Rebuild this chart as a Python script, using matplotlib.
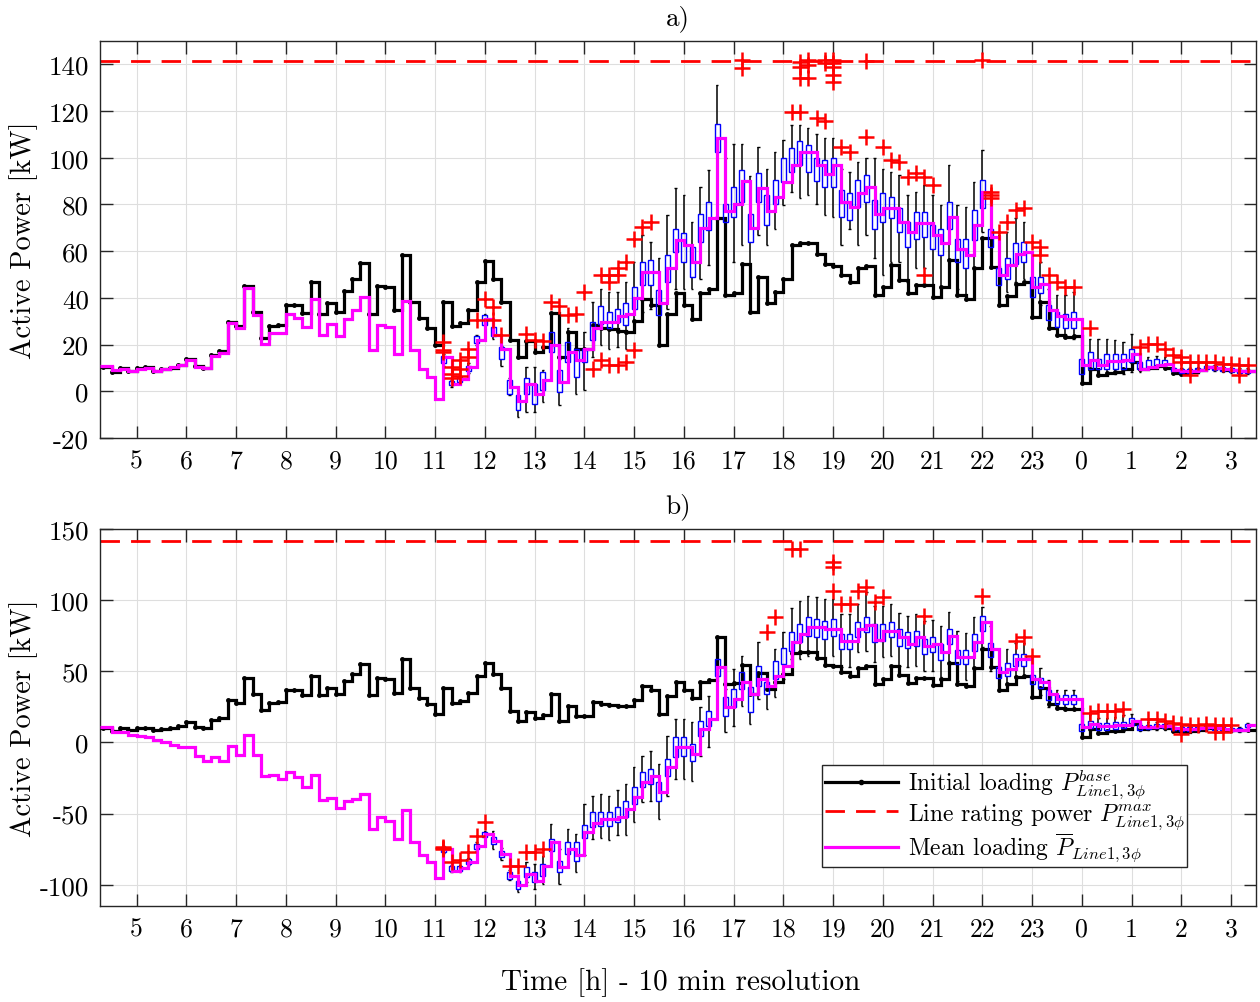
import numpy as np
import matplotlib
matplotlib.use('Agg')
import matplotlib.pyplot as plt
from matplotlib.patches import Rectangle
from matplotlib.lines import Line2D

plt.rcParams['font.family'] = ['cmr10', 'DejaVu Serif']
plt.rcParams['mathtext.fontset'] = 'cm'
plt.rcParams['axes.unicode_minus'] = False

# 10 min samples, 04:20 -> 03:20 next day (one row per hour)
initial_load = [
    10.4, 8.3, 10.0, 8.7,
    10.0, 10.4, 8.6, 9.7, 10.0, 11.4,
    14.0, 10.9, 10.0, 15.4, 17.1, 29.7,
    27.9, 45.0, 34.0, 23.0, 28.0, 28.5,
    37.0, 37.0, 33.5, 47.0, 33.0, 38.0,
    34.0, 43.0, 48.0, 55.0, 33.0, 45.0,
    44.7, 34.7, 58.3, 38.3, 31.4, 26.9,
    19.7, 38.3, 28.0, 29.4, 34.7, 46.6,
    55.7, 48.3, 38.3, 21.9, 14.7, 21.4,
    16.9, 19.0, 33.7, 14.7, 25.4, 18.3,
    18.3, 28.6, 27.1, 26.6, 25.9, 25.4,
    30.0, 39.4, 36.9, 20.0, 32.9, 42.3,
    36.9, 30.9, 42.3, 44.0, 74.0, 41.1,
    41.9, 54.7, 34.0, 49.0, 37.6, 42.6,
    48.3, 62.6, 63.7, 63.3, 59.0, 54.7,
    53.7, 49.7, 46.9, 52.6, 53.6, 41.1,
    44.7, 54.0, 47.6, 41.9, 45.4, 45.4,
    40.4, 44.7, 56.1, 41.1, 39.7, 52.6,
    65.7, 53.3, 36.9, 40.9, 45.9, 46.9,
    31.9, 38.3, 27.1, 24.3, 23.3, 23.7,
    3.7, 9.7, 6.9, 7.9, 8.3, 9.4,
    12.6, 9.4, 10.0, 10.9, 10.0, 7.9,
    7.6, 8.3, 9.0, 10.4, 10.0, 9.0,
    9.0, 8.7, 8.7,
]

mean_a = [
    10.7, 9.0, 9.7, 8.7,
    9.7, 10.0, 8.7, 9.7, 10.4, 11.1,
    13.6, 10.4, 10.0, 15.0, 16.6, 29.3,
    26.9, 44.3, 32.6, 20.4, 25.1, 25.1,
    32.9, 31.4, 27.6, 39.4, 24.0, 28.7,
    23.7, 31.1, 34.7, 40.4, 17.6, 28.3,
    27.5, 16.1, 38.5, 17.6, 9.7, 6.0,
    -3.4, 14.7, 3.3, 5.1, 10.4, 21.9,
    31.0, 24.0, 18.0, 2.0, -4.0, 3.0,
    -1.0, 5.0, 20.0, 4.0, 17.0, 13.3,
    18.0, 26.9, 29.7, 29.7, 32.3, 33.3,
    40.0, 51.0, 51.0, 38.0, 52.9, 65.0,
    62.6, 55.4, 70.0, 74.3, 108.3, 77.0,
    80.4, 90.0, 70.0, 86.9, 77.0, 83.3,
    89.7, 96.9, 102.6, 102.6, 97.0, 93.0,
    96.9, 81.0, 79.0, 84.7, 87.6, 76.1,
    78.3, 78.3, 72.6, 68.3, 71.9, 71.9,
    66.9, 63.3, 74.7, 61.1, 58.3, 71.1,
    85.4, 66.1, 49.7, 54.0, 59.0, 59.7,
    44.7, 46.1, 34.7, 32.3, 30.9, 30.9,
    11.1, 13.3, 11.1, 12.9, 12.9, 13.3,
    16.1, 9.7, 10.4, 11.1, 11.9, 9.0,
    8.6, 8.6, 9.0, 10.4, 10.0, 9.4,
    9.0, 8.6, 8.6,
]

mean_b = [
    10.5, 7.5, 7.5, 5.4,
    4.7, 3.5, 1.9, 0.0, -1.9, -3.5,
    -3.5, -9.4, -12.9, -10.5, -12.9, -2.8,
    -8.7, 5.4, -8.9, -23.9, -22.7, -25.8,
    -20.6, -24.6, -31.6, -22.7, -40.3, -39.3,
    -46.1, -41.0, -39.8, -36.3, -60.9, -52.7,
    -55.0, -67.9, -47.3, -69.8, -79.2, -84.3,
    -95.5, -75.0, -90.2, -88.5, -84.3, -72.6,
    -64.4, -69.1, -78.5, -93.7, -100.2, -92.5,
    -97.2, -86.7, -70.3, -87.8, -75.0, -79.2,
    -63.0, -57.0, -53.9, -53.9, -52.7, -46.8,
    -38.6, -28.1, -23.4, -35.1, -17.6, -3.5,
    -3.5, -8.2, 9.4, 16.4, 52.7, 24.6,
    30.4, 42.2, 34.0, 44.5, 39.8, 46.8,
    53.9, 70.3, 76.1, 80.8, 80.8, 79.6,
    80.0, 71.4, 71.4, 79.6, 82.4, 72.0,
    78.0, 78.5, 73.8, 69.0, 74.0, 68.0,
    69.0, 63.2, 75.0, 60.0, 60.0, 70.3,
    84.3, 65.6, 49.2, 51.5, 58.5, 58.5,
    44.5, 42.2, 34.0, 30.4, 30.4, 30.4,
    10.5, 12.9, 11.5, 11.5, 12.0, 12.5,
    15.2, 10.5, 11.0, 11.5, 11.5, 9.8,
    9.5, 9.5, 9.8, 10.5, 10.0, 9.5,
    8.9, 8.9, 12.0,
]

rating = 141.4

# box statistics from 11:10 onwards (q1, q3, lower/upper whisker)
box_start = '11:10'
q1_a = [
    12, 2.5, 4, 8.5, 20.5,
    28.5, 23.5, 14, -1, -8, -1,
    -5.3, 0.4, 16.9, -0.3, 12.6, 6,
    12.6, 21.9, 28.9, 26.9, 29.7, 28.3,
    35.4, 45.4, 45.4, 32.6, 46.9, 59.7,
    55.4, 49, 64, 69, 102.6, 72.6,
    74.6, 81.1, 64, 81.1, 71.1, 80.4,
    89.7, 94, 97, 94, 90, 87.6,
    87.6, 74.7, 73.3, 79, 81.1, 69.7,
    72.6, 74, 68.3, 61.9, 65.4, 66.1,
    61.1, 58.3, 69.7, 55.4, 52.6, 64.7,
    78.3, 61.9, 45.4, 48.3, 54.7, 55.4,
    40.4, 41.9, 30.4, 27.6, 26.9, 26.9,
    7.6, 9.7, 9.7, 9.7, 9.7, 9.7,
    12.6, 9.7, 10.4, 10.9, 11.1, 8.5,
    8, 8, 8.5, 9.5, 9.3, 8.8,
    8.3, 8, 8,
]
q3_a = [
    15, 4.5, 6, 11, 23.5,
    32.5, 27.5, 19, 4.7, -1.7, 5.5,
    3.3, 8.3, 25.4, 9, 21.1, 18.3,
    18.3, 29.7, 36.6, 34, 35.4, 37.6,
    44.7, 55.4, 56.1, 43.3, 58.3, 69.7,
    67.6, 61.9, 76.1, 81.1, 114.6, 80.4,
    87.6, 94.6, 76.1, 93.3, 84, 90.4,
    99.7, 104, 107, 105.4, 100, 99,
    99.7, 86.1, 84.7, 90.4, 92.6, 81.9,
    84.7, 83.3, 78.3, 72.6, 76.9, 76.9,
    71.1, 69.7, 81.1, 65.4, 65.4, 77.6,
    90.4, 69.7, 52.6, 56.9, 63.3, 64,
    49, 49, 36.9, 34, 33.3, 34,
    14, 16.9, 14, 16.1, 16.1, 16.1,
    18.3, 12.6, 13.3, 14, 13.3, 10,
    9.5, 9.5, 10, 11, 10.8, 10.2,
    9.8, 9.3, 9.3,
]
wlo_a = [
    11, 2, 3.5, 8, 20,
    27.5, 22.5, 11, -1.7, -11, -8.9,
    -8.9, -4.6, 12.6, -6, 4, -1,
    0.4, 14.7, 20, 18.3, 19, 18.3,
    26.9, 34, 35.4, 19.7, 35.4, 44,
    44, 44, 48.3, 54, 84, 41.1,
    55.4, 62.6, 52.6, 66.9, 62.6, 69.7,
    79.7, 85.4, 82.6, 84, 80, 75.4,
    74.7, 62.6, 69.7, 62.6, 66.9, 56.9,
    49.7, 55.4, 55.4, 46.9, 52.6, 52.6,
    45.4, 44, 52.6, 44, 41.1, 52.6,
    68.3, 52.6, 41.1, 42.6, 46.9, 48.3,
    32.6, 36.9, 26.9, 24, 24, 22.6,
    4, 6.9, 6.9, 6.9, 7.6, 7.6,
    8.3, 8.3, 9.5, 10, 10, 8,
    7.5, 7.5, 8, 9, 8.8, 8.3,
    7.8, 7.5, 7.5,
]
whi_a = [
    16, 5, 7, 12, 24,
    33, 28.5, 19.5, 5.5, -1, 10.4,
    10.4, 9, 29.7, 14, 26.9, 23.3,
    25.4, 38.3, 44, 42.6, 42.6, 46.9,
    55.4, 66.9, 64, 56.9, 75.4, 86.9,
    84, 72.6, 87.6, 94.9, 131.1, 100,
    106, 106, 92.3, 104.7, 95.4, 102.6,
    107.6, 113.9, 113.9, 112.6, 110, 108.3,
    108.3, 95.4, 94, 98.3, 99.7, 99.7,
    95.4, 94, 92.6, 84, 85.4, 88.3,
    84, 79.7, 96.9, 79.7, 79, 89.7,
    103.3, 84, 66.9, 68.3, 74, 72.6,
    56.9, 55.4, 44, 41.1, 41.1, 42.6,
    19.7, 22.6, 22.6, 22.6, 21.9, 21.1,
    24.7, 14, 14.5, 15, 14.5, 10.7,
    10, 10, 10.5, 11.5, 11.3, 10.8,
    10.3, 9.8, 9.8,
]

q1_b = [
    -77.3, -90.2, -90.2, -85.5, -74.9,
    -66.7, -71.4, -80.8, -96, -103, -94.8,
    -98.4, -93.7, -76.1, -91.3, -78.5, -83.1,
    -67, -59.7, -58.5, -58.5, -56.2, -52.7,
    -43.3, -31.6, -29.3, -41, -23.4, -10.5,
    -9.4, -12.9, 4.7, 11.7, 46.8, 18.7,
    24.6, 37.5, 21.1, 39.8, 34, 44.5,
    55, 64.4, 70.3, 74.9, 73.8, 72.6,
    74.9, 65.6, 65.6, 73.8, 77.3, 70.3,
    71.4, 73.8, 67.9, 66.7, 67.9, 62.1,
    63.5, 58, 69, 55, 55, 64,
    78, 60, 45, 47, 54, 54,
    41, 38.5, 29.5, 27, 27, 27,
    8, 10, 9, 9, 9.5, 10,
    12.5, 9, 9.5, 10, 10, 8.5,
    8.3, 8.3, 8.5, 9.3, 9, 8.5,
    8, 8, 11,
]
q3_b = [
    -73.8, -86.7, -86.7, -82, -71.4,
    -63.2, -66.7, -76.1, -91.3, -97.2, -87.8,
    -91.3, -85.5, -67.9, -83.1, -70.3, -70.3,
    -58, -49.2, -49.2, -49.2, -45.7, -41,
    -31.6, -21.1, -18.7, -28.1, -11.7, 3.5,
    3.5, -1.2, 15.2, 22.2, 58.5, 31.6,
    37.5, 49.2, 38.6, 53.9, 42.2, 57.4,
    66.7, 77.3, 83.1, 87.8, 86.7, 85.5,
    86.7, 76.1, 76.1, 84.3, 87.8, 83.1,
    83.1, 84.3, 79.6, 77.3, 78.5, 72.6,
    74, 69, 80, 65, 65, 76,
    89, 70, 53, 56, 62, 62,
    47.5, 45, 36.5, 33, 33, 33,
    13, 15, 13.5, 13.5, 14, 14.5,
    17, 12, 12.5, 13, 13, 11,
    10.8, 10.8, 11, 11.8, 11.5, 10.5,
    10, 10, 13,
]
wlo_b = [
    -78, -91, -91, -86, -76,
    -68, -74.9, -83, -97, -105.4, -98.4,
    -103, -99.5, -84.3, -99.5, -86.7, -91.3,
    -79.2, -67.9, -67.4, -68.6, -64.9, -64.9,
    -56.2, -42.2, -41, -53.9, -37.5, -25.8,
    -25.8, -26.9, -9.4, -3.5, 33, 7,
    11.7, 25.8, 12.9, 30.4, 23.4, 31.6,
    44.5, 58.5, 58.5, 60.9, 60, 59,
    60.9, 52.7, 52.7, 63.2, 64.4, 56.2,
    59.7, 60.9, 53.9, 52.7, 53.9, 50.4,
    50, 46, 57, 43, 44, 52,
    67, 50, 38, 40, 47, 47,
    35, 33, 25, 24, 24, 24,
    5, 7, 7, 7, 7.5, 8,
    10, 8, 8.5, 9, 9, 8,
    7.8, 7.8, 8, 8.8, 8.5, 8,
    7.5, 7.5, 10.5,
]
whi_b = [
    -73, -86, -86, -81, -70,
    -62, -62, -74, -90, -96, -84.3,
    -85.5, -79.7, -57.1, -75, -60.9, -64.4,
    -43.3, -37.5, -36.3, -37.5, -33.7, -29.3,
    -17.6, -9.4, -5.9, -15.2, 4.7, 16.4,
    16.4, 14, 24.6, 32.8, 72, 37.5,
    51.5, 60.9, 51.5, 70.3, 46.8, 65.6,
    77.3, 94.8, 99.5, 103, 102, 101,
    100.7, 90.2, 90.2, 97.2, 105.4, 95.9,
    95.9, 97.2, 91.3, 88.9, 90.2, 85.5,
    86, 82, 92, 78, 77, 88,
    95, 82, 64, 66, 70, 70,
    55, 52, 44, 37, 37, 37,
    17, 19, 17, 17, 18, 19,
    20, 13.5, 14, 14, 14, 12,
    11.5, 11.5, 11.8, 12.5, 12.2, 11.2,
    10.7, 10.7, 13.5,
]

outliers_a = {
    '11:10': [21.0, 17.5, 17.0], '11:20': [10.4, 7.5, 5.5], '11:30': [13.3, 9.7, 6.5],
    '11:40': [14.7, 18.3], '11:50': [30.4], '12:00': [39.7], '12:10': [36.1, 30.4],
    '12:20': [24.0], '12:50': [24.7], '13:00': [21.9], '13:10': [21.4], '13:20': [38.3],
    '13:30': [36.6], '13:40': [32.6], '13:50': [33.3], '14:00': [42.6], '14:10': [9.7],
    '14:20': [49.7, 13.3], '14:30': [49.7, 46.9, 11.1], '14:40': [52.6, 49.7, 11.1],
    '14:50': [55.4, 12.6], '15:00': [65.4, 17.6], '15:10': [70.4], '15:20': [72.6],
    '17:10': [141.9, 138.3], '18:10': [119.7], '18:20': [141.1, 139.0, 134.0, 119.7],
    '18:30': [141.9, 139.7, 134.0], '18:40': [116.9], '18:50': [141.9, 140.5, 115.7],
    '19:00': [141.9, 140.4, 139.0, 135.4, 132.6], '19:10': [104.7], '19:20': [102.6],
    '19:40': [141.6, 109.0], '20:00': [104.7], '20:10': [99.0], '20:20': [98.3],
    '20:30': [91.9], '20:40': [93.3], '20:50': [91.9, 49.7], '21:00': [88.3],
    '22:00': [141.9], '22:10': [85.4, 84.0, 82.6], '22:20': [68.3], '22:30': [72.6],
    '22:40': [77.6], '22:50': [78.3], '23:00': [64.0], '23:10': [61.9, 58.3],
    '23:20': [49.7], '23:30': [46.9], '23:40': [44.7], '23:50': [44.7], '00:10': [26.9],
    '01:10': [19.0], '01:20': [20.4], '01:30': [20.4], '01:40': [18.3], '01:50': [15.4],
    '02:00': [14.7, 12.6], '02:10': [12.6, 6.9], '02:20': [12.6], '02:30': [12.6],
    '02:40': [12.6], '02:50': [11.9], '03:00': [11.9], '03:10': [11.1, 6.9], '03:20': [11.1],
}
outliers_b = {
    '11:10': [-73.8, -75.0, -74.5], '11:20': [-84.0], '11:30': [-83.0], '11:40': [-77.0],
    '11:50': [-65.6], '12:00': [-56.2], '12:30': [-86.7], '12:40': [-86.7],
    '12:50': [-77.3], '13:00': [-77.3], '13:10': [-75.0], '17:40': [77.3],
    '17:50': [87.8], '18:10': [135.8], '18:20': [135.8], '19:00': [126.5, 123.0, 106.6],
    '19:10': [97.2], '19:20': [97.2], '19:30': [106.6], '19:40': [108.9], '19:50': [98.4],
    '20:00': [101.9], '20:50': [89.0], '22:00': [103.0], '22:40': [71.4], '22:50': [73.8],
    '23:00': [60.9], '00:10': [21.0], '00:20': [22.2], '00:30': [22.2], '00:40': [22.2],
    '00:50': [23.4], '01:20': [16.4], '01:30': [16.4], '01:40': [15.2], '01:50': [13.5],
    '02:00': [13.0, 5.9], '02:10': [12.5], '02:20': [12.5], '02:30': [13.0],
    '02:40': [12.5, 7.0], '02:50': [12.0, 7.0], '03:00': [12.0],
}


def hours(label):
    h, m = map(int, label.split(':'))
    if h < 4:
        h += 24
    return h + m / 60


N = len(initial_load)
t = hours('04:20') + np.arange(N) / 6
XLIM = (4.265, 27.5)
edges = np.r_[XLIM[0], t[1:], t[-1] + 1 / 6]
BW = 0.1


def draw_panel(ax, mean, q1, q3, wlo, whi, outliers, ylim, yticks, title):
    ax.axhline(rating, color='#ff0000', lw=2.0, ls=(0, (7, 4)), zorder=2)
    ax.stairs(initial_load, edges, baseline=None, color='k', lw=2.3, zorder=3)
    ax.plot(t, initial_load, '.', color='k', ms=5, zorder=3)

    bt = hours(box_start) + np.arange(len(q1)) / 6
    q1, q3, wlo, whi = map(np.asarray, (q1, q3, wlo, whi))
    for x, a, b in zip(bt, q1, q3):
        ax.add_patch(Rectangle((x - BW / 2, a), BW, b - a, fill=False,
                               ec='#0000ff', lw=1.0, zorder=4))
    ax.vlines(bt, q3, whi, colors='k', lw=1.1, zorder=3.5)
    ax.vlines(bt, wlo, q1, colors='k', lw=1.1, zorder=3.5)
    ax.hlines(np.r_[whi, wlo], np.r_[bt, bt] - BW / 4, np.r_[bt, bt] + BW / 4,
              colors='k', lw=1.0, zorder=3.5)

    ax.stairs(mean, edges, baseline=None, color='#ff00ff', lw=2.3, zorder=5)

    ox = [hours(k) for k, vals in outliers.items() for _ in vals]
    oy = [v for vals in outliers.values() for v in vals]
    ax.plot(ox, oy, '+', color='#ff0000', ms=11, mew=1.8, zorder=6)

    ax.set_xlim(*XLIM)
    ax.set_ylim(*ylim)
    ax.set_yticks(yticks)
    ax.set_xticks(np.arange(5, 28))
    ax.set_xticklabels([str(h % 24) for h in range(5, 28)])
    ax.grid(True, color='#dedede', lw=0.8)
    ax.set_axisbelow(True)
    ax.tick_params(direction='in', length=9, width=1, top=True, right=True,
                   colors='#262626', labelcolor='k', pad=8)
    ax.tick_params(axis='y', labelsize=19.5)
    ax.tick_params(axis='x', labelsize=18.5)
    for s in ax.spines.values():
        s.set_color('#262626')
        s.set_linewidth(1.0)
    ax.set_ylabel('Active Power [kW]', fontsize=20.5)
    ax.yaxis.set_label_coords(-0.054, 0.5)
    ax.set_title(title, fontsize=19.5, pad=12)


fig = plt.figure(figsize=(12.6, 10.03), dpi=100)
ax_a = fig.add_axes([0.07937, 0.56231, 0.91746, 0.39581])
ax_b = fig.add_axes([0.07937, 0.09571, 0.91746, 0.37587])

draw_panel(ax_a, mean_a, q1_a, q3_a, wlo_a, whi_a, outliers_a,
           (-20, 150), np.arange(-20, 141, 20), 'a)')
draw_panel(ax_b, mean_b, q1_b, q3_b, wlo_b, whi_b, outliers_b,
           (-115, 150), np.arange(-100, 151, 50), 'b)')

handles = [
    Line2D([], [], color='k', lw=2.3, marker='.', ms=6),
    Line2D([], [], color='#ff0000', lw=2.0, ls=(0, (7, 4))),
    Line2D([], [], color='#ff00ff', lw=2.3),
]
labels = [
    r'Initial loading $P^{base}_{Line1,3\phi}$',
    r'Line rating power $P^{max}_{Line1,3\phi}$',
    r'Mean loading $\overline{P}_{Line1,3\phi}$',
]
leg = ax_b.legend(handles, labels, loc='lower left', bbox_to_anchor=(0.6246, 0.103),
                  borderaxespad=0, fontsize=17, numpoints=1, handlelength=3.1,
                  fancybox=False, framealpha=1, edgecolor='#262626', borderpad=0.12,
                  labelspacing=0.0, handletextpad=0.4)
leg.get_frame().set_linewidth(1.0)

fig.text(0.54, 0.02, 'Time [h] - 10 min resolution', ha='center', va='center',
         fontsize=21)

fig.savefig('out.png', dpi=100)
